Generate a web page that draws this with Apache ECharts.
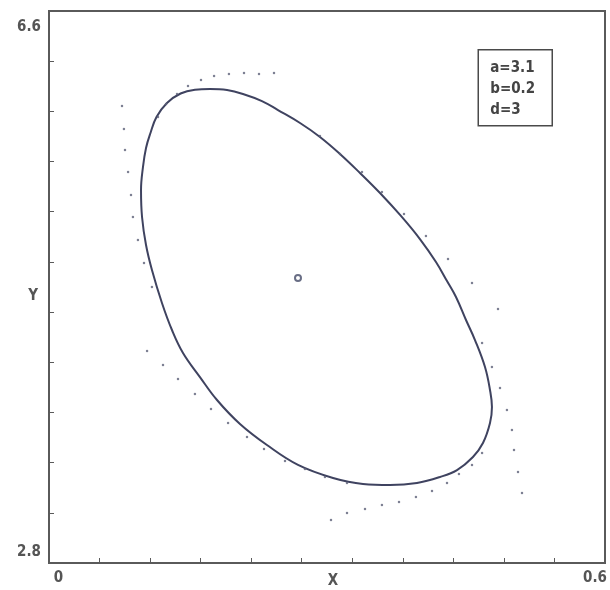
<!DOCTYPE html>
<html>
<head>
<meta charset="utf-8">
<script src="https://cdn.jsdelivr.net/npm/echarts@6/dist/echarts.min.js"></script>
<style>
html,body{margin:0;padding:0;background:#fff;}
#chart{width:610px;height:590px;}
</style>
</head>
<body>
<div id="chart"></div>
<script>
// ---- data ----
var xRange = [0, 0.6];
var yRange = [2.8, 6.6];
var xTickLabels = [0, 0.6];
var yTickLabels = [2.8, 6.6];
var tickDivisions = 11;
var params = ['a=3.1', 'b=0.2', 'd=3'];

// limit cycle (closed orbit), x values
var cycleX = [0.1737,0.1921,0.2093,0.2298,0.2471,0.2709,0.2924,0.3140,0.3356,0.3572,0.3798,0.4003,0.4176,0.4295,0.4392,0.4500,0.4597,0.4705,0.4759,0.4780,0.4759,0.4683,0.4575,0.4403,0.4219,0.3971,0.3680,0.3388,0.3065,0.2687,0.2352,0.2061,0.1813,0.1629,0.1446,0.1327,0.1219,0.1111,0.1047,0.1004,0.0993,0.1014,0.1047,0.1095,0.1160,0.1273,0.1420,0.1575,0.1737];
// limit cycle, y values
var cycleY = [6.063,6.056,6.029,5.980,5.918,5.829,5.733,5.616,5.485,5.347,5.189,5.030,4.872,4.741,4.631,4.473,4.335,4.149,3.991,3.874,3.764,3.626,3.530,3.440,3.392,3.351,3.337,3.344,3.385,3.475,3.612,3.757,3.922,4.080,4.246,4.404,4.590,4.817,4.989,5.182,5.368,5.526,5.657,5.760,5.870,5.967,6.032,6.058,6.063];

// dotted trajectory samples, x values
var dotsX = [0.2428,0.2266,0.2104,0.1942,0.1781,0.1640,0.1500,0.1381,0.1263,0.1176,
  0.0788,0.0809,0.0820,0.0853,0.0885,0.0906,0.0960,0.1025,0.1111,
  0.1058,0.1230,0.1392,0.1575,0.1748,0.1932,0.2137,0.2320,0.2547,0.2762,0.2978,0.3216,
  0.3043,0.3216,0.3410,0.3593,0.3777,0.3960,0.4133,0.4295,0.4424,0.4565,0.4673,
  0.4845,0.4780,0.4867,0.4942,0.4996,0.5018,0.5061,0.5104,
  0.2924,0.3140,0.3378,0.3593,0.3831,0.4068,0.4306,0.4565,0.4673];
// dotted trajectory samples, y values
var dotsY = [6.173,6.166,6.173,6.166,6.153,6.125,6.084,6.029,5.960,5.870,
  5.946,5.788,5.643,5.492,5.333,5.182,5.024,4.865,4.700,
  4.259,4.163,4.067,3.963,3.860,3.764,3.667,3.585,3.502,3.447,3.392,3.351,
  3.096,3.144,3.172,3.199,3.220,3.254,3.296,3.351,3.413,3.475,3.557,
  4.549,4.149,4.005,3.853,3.716,3.578,3.426,3.282,
  5.740,5.616,5.492,5.354,5.203,5.051,4.893,4.728,4.314];

// equilibrium point
var eqX = [0.2687];
var eqY = [4.762];

// ---- build ----
function zip(a, b){ var r=[]; for(var i=0;i<a.length;i++) r.push([a[i], b[i]]); return r; }
function divTicks(r){ var t=[]; for(var k=1;k<tickDivisions;k++) t.push(r[0]+(r[1]-r[0])*k/tickDivisions); return t; }

var axisColor = '#5a5a5a';
var textColor = '#555';
var font = "'Liberation Sans Narrow','DejaVu Sans Condensed','Liberation Sans',sans-serif";

var chart = echarts.init(document.getElementById('chart'), null, {renderer:'canvas'});
chart.setOption({
  animation: false,
  backgroundColor: '#fff',
  grid: { left: 49, right: 5, top: 11, bottom: 27, show: true, borderColor: axisColor, borderWidth: 2, containLabel: false, outerBoundsMode: 'none' },
  xAxis: {
    type: 'value', min: xRange[0], max: xRange[1],
    name: 'X', nameLocation: 'middle', nameGap: 11, nameMoveOverlap: false,
    nameTextStyle: { color: textColor, fontSize: 15, fontFamily: font, fontWeight: 'bold', padding: [0,0,0,12] },
    axisLine: { show: true, onZero: false, lineStyle: { color: axisColor, width: 2 } },
    axisTick: { show: true, inside: true, length: 5, customValues: divTicks(xRange), lineStyle: { color: axisColor, width: 1 } },
    splitLine: { show: false },
    axisLabel: {
      customValues: xTickLabels, margin: 8,
      formatter: function(v){ return v === xTickLabels[0] ? '{l|' + v + '}' : '{r|' + v + '}'; },
      rich: {
        l: { color: textColor, fontSize: 15, fontFamily: font, fontWeight: 'bold', padding: [0,0,0,19] },
        r: { color: textColor, fontSize: 15, fontFamily: font, fontWeight: 'bold', padding: [0,20,0,0] }
      }
    }
  },
  yAxis: {
    type: 'value', min: yRange[0], max: yRange[1],
    name: 'Y', nameLocation: 'middle', nameGap: 11, nameRotate: 0, nameMoveOverlap: false,
    nameTextStyle: { color: textColor, fontSize: 15, fontFamily: font, fontWeight: 'bold', verticalAlign: 'top', padding: [2,0,0,0] },
    axisLine: { show: true, onZero: false, lineStyle: { color: axisColor, width: 2 } },
    axisTick: { show: true, inside: true, length: 5, customValues: divTicks(yRange), lineStyle: { color: axisColor, width: 1 } },
    splitLine: { show: false },
    axisLabel: {
      customValues: yTickLabels, margin: 8,
      formatter: function(v){ return v === yTickLabels[1] ? '{t|' + v.toFixed(1) + '}' : '{b|' + v.toFixed(1) + '}'; },
      rich: {
        t: { color: textColor, fontSize: 15, fontFamily: font, fontWeight: 'bold', padding: [32,0,0,0] },
        b: { color: textColor, fontSize: 15, fontFamily: font, fontWeight: 'bold', padding: [0,0,22,0] }
      }
    }
  },
  series: [
    {
      type: 'line', data: zip(cycleX, cycleY), smooth: 0.4, showSymbol: false,
      lineStyle: { color: '#3f4360', width: 2 }, z: 3
    },
    {
      type: 'scatter', data: zip(dotsX, dotsY), symbol: 'circle', symbolSize: 2.5,
      itemStyle: { color: '#5c6078' }, z: 4
    },
    {
      type: 'scatter', data: zip(eqX, eqY), symbol: 'emptyCircle', symbolSize: 6,
      itemStyle: { color: '#444a66', borderColor: '#444a66', borderWidth: 1.5 }, z: 5
    }
  ],
  graphic: [
    {
      type: 'group', right: 57, top: 49,
      children: [
        { type: 'rect', shape: { x: 0, y: 0, width: 74, height: 76 }, style: { fill: '#fff', stroke: '#4a4a4a', lineWidth: 1.5 } },
        { type: 'text', x: 12, y: 8, style: { text: params.join('\n'), fill: '#444', font: 'bold 15px ' + font, lineHeight: 21 } }
      ]
    }
  ]
});
</script>
</body>
</html>
